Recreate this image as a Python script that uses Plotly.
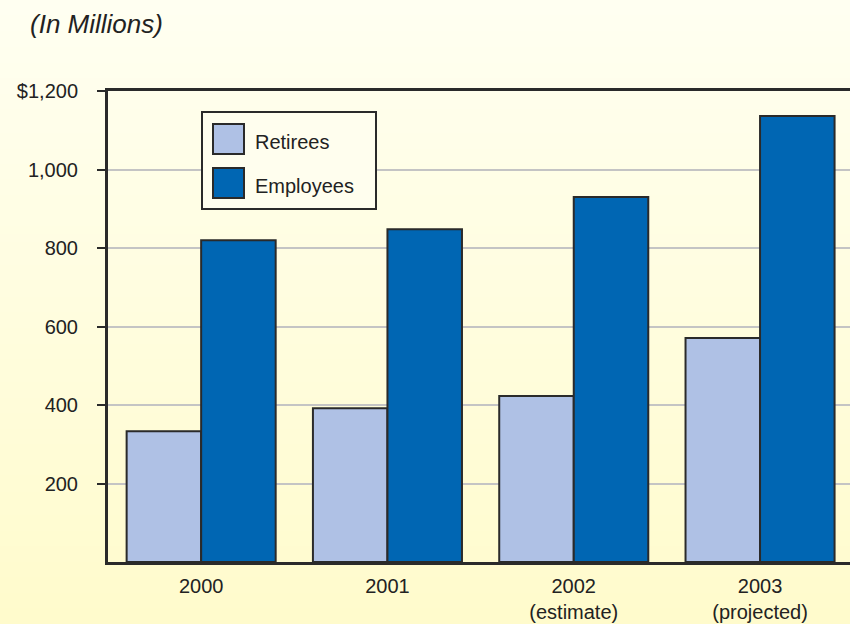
import plotly.graph_objects as go

categories = ["2000", "2001", "2002<br>(estimate)", "2003<br>(projected)"]
retirees = [333, 392, 423, 571]
employees = [820, 848, 930, 1136]
y_tickvals = [200, 400, 600, 800, 1000, 1200]
y_ticktext = ["200", "400", "600", "800", "1,000", "$1,200"]

W, H = 850, 624
L, R, T, B = 108, 0, 91, 62
PW, PH = W - L - R, H - T - B

def px_x(x):
    return (x - L) / PW

def px_y(y):
    return (H - B - y) / PH

RET_COLOR = "#AFC1E5"
EMP_COLOR = "#0066B3"
EDGE = "#2A2A2A"
FONT = "Liberation Sans, Arial, sans-serif"

fig = go.Figure()
fig.add_trace(go.Bar(name="Retirees", x=categories, y=retirees,
                     marker=dict(color=RET_COLOR, line=dict(color=EDGE, width=2))))
fig.add_trace(go.Bar(name="Employees", x=categories, y=employees,
                     marker=dict(color=EMP_COLOR, line=dict(color=EDGE, width=2))))

shapes = []
# background gradient strips
n = 80
top = (255, 255, 241)
bot = (255, 251, 204)
for i in range(n):
    t = i / (n - 1)
    c = tuple(round(top[k] + (bot[k] - top[k]) * t) for k in range(3))
    y0 = i * H / n
    y1 = (i + 1) * H / n + 1
    shapes.append(dict(type="rect", xref="paper", yref="paper",
                       x0=px_x(0), x1=px_x(W), y0=px_y(y1), y1=px_y(y0),
                       line=dict(width=0), fillcolor="rgb(%d,%d,%d)" % c, layer="below"))

# legend box
shapes.append(dict(type="rect", xref="paper", yref="paper",
                   x0=px_x(202), x1=px_x(376), y0=px_y(209), y1=px_y(112),
                   line=dict(color=EDGE, width=2), fillcolor="#FFFEEE", layer="above"))
legend_items = [("Retirees", RET_COLOR, 124), ("Employees", EMP_COLOR, 168)]
annotations = []
for name, col, sy in legend_items:
    shapes.append(dict(type="rect", xref="paper", yref="paper",
                       x0=px_x(213), x1=px_x(244), y0=px_y(sy + 30), y1=px_y(sy),
                       line=dict(color=EDGE, width=2), fillcolor=col, layer="above"))
    annotations.append(dict(text=name, xref="paper", yref="paper",
                            x=px_x(253), y=px_y(sy + 18), xanchor="left", yanchor="middle",
                            showarrow=False, font=dict(family=FONT, size=20, color="#222222")))

fig.update_layout(
    width=W, height=H,
    margin=dict(l=L, r=R, t=T, b=B, pad=0),
    barmode="group", bargap=0.2, bargroupgap=0,
    showlegend=False,
    paper_bgcolor="#FFFDE6",
    plot_bgcolor="rgba(0,0,0,0)",
    font=dict(family=FONT, size=20, color="#222222"),
    title=dict(text="<i>(In Millions)</i>", xref="container", yref="container",
               x=30 / W, y=1 - 24 / H, xanchor="left", yanchor="middle",
               font=dict(family=FONT, size=26, color="#222222")),
    shapes=shapes,
    annotations=annotations,
)
fig.update_xaxes(range=[-0.5, -0.5 + PW / 186.3], showline=True, mirror=True,
                 linecolor=EDGE, linewidth=3, ticks="", showgrid=False,
                 ticklabelstandoff=4, tickfont=dict(size=20))
fig.update_yaxes(range=[0, 1200], tickvals=y_tickvals, ticktext=y_ticktext,
                 showline=True, linecolor=EDGE, linewidth=3, ticks="outside",
                 ticklen=8, tickwidth=2, tickcolor=EDGE, showgrid=True,
                 gridcolor="#C4C4C4", gridwidth=2, zeroline=False,
                 ticklabelstandoff=15, tickfont=dict(size=20))

fig.write_html("out.html", config={"displayModeBar": False},
               post_script="document.body.style.margin='0px';document.body.style.padding='0px';")
